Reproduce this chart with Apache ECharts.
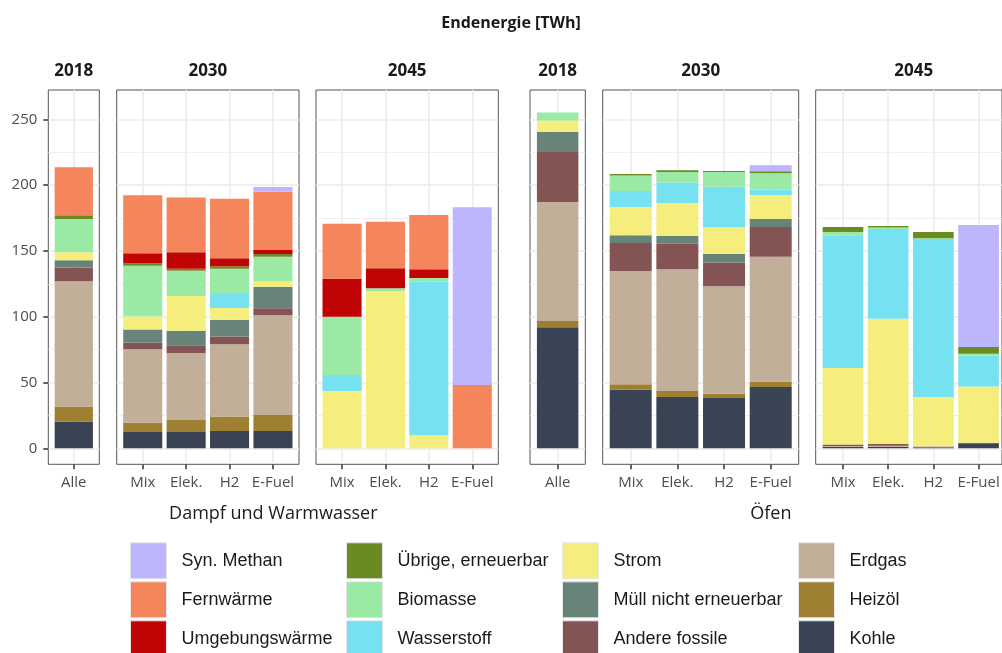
<!DOCTYPE html>
<html>
<head>
<meta charset="utf-8">
<script src="https://cdn.jsdelivr.net/npm/echarts@6/dist/echarts.min.js"></script>
<style>
  html, body { margin: 0; padding: 0; background: #ffffff; }
  #chart { width: 1002px; height: 653px; }
</style>
</head>
<body>
<div id="chart"></div>
<script>
// ---- Data ---------------------------------------------------------------
const chartTitle = 'Endenergie [TWh]';
const years = ['2018', '2030', '2045'];
const cats2018 = ['Alle'];
const catsScenario = ['Mix', 'Elek.', 'H2', 'E-Fuel'];
const groupNames = ['Dampf und Warmwasser', 'Öfen'];
const yTickValues = [0, 50, 100, 150, 200, 250];

// Energy carriers, stacked from bottom to top
const carriers = ['Kohle', 'Heizöl', 'Erdgas', 'Andere fossile', 'Müll nicht erneuerbar',
  'Strom', 'Wasserstoff', 'Biomasse', 'Übrige, erneuerbar', 'Umgebungswärme', 'Fernwärme', 'Syn. Methan'];
const carrierColors = ['#3a4353', '#9f8032', '#c1af99', '#845454', '#688378',
  '#f5ee7c', '#76e1f0', '#9ae9a5', '#6a8b23', '#c00405', '#f5855b', '#bdb5fe'];

// Values in TWh: [2018 Alle | 2030 Mix, Elek., H2, E-Fuel | 2045 Mix, Elek., H2, E-Fuel]
// Dampf und Warmwasser
const dampfKohle      = [20.3, 12.4, 12.4, 13.2, 13.2, 0, 0, 0, 0];
const dampfHeizoel    = [11.4, 7.1, 9.1, 10.9, 12.1, 0, 0, 0, 0];
const dampfErdgas     = [95.2, 55.7, 50.9, 54.9, 75.8, 0, 0, 0, 0];
const dampfAndere     = [10.4, 5.1, 5.9, 5.9, 5.3, 0, 0, 0, 0];
const dampfMuell      = [5.6, 9.9, 11.1, 12.6, 16.4, 0, 0, 0, 0];
const dampfStrom      = [6.0, 10.1, 26.4, 9.1, 4.1, 43.6, 119.6, 9.9, 0];
const dampfWasserst   = [0, 0.8, 0, 11.4, 0, 12.1, 0, 116.7, 0];
const dampfBiomasse   = [25.4, 37.7, 19.2, 18.5, 18.7, 44.3, 2.0, 2.8, 0];
const dampfUebrige    = [2.8, 1.8, 1.5, 1.8, 2.1, 0, 0, 0, 0];
const dampfUmgebung   = [0, 7.6, 12.4, 6.1, 3.3, 28.9, 15.2, 6.6, 0];
const dampfFernwaerme = [36.4, 44.0, 41.6, 45.3, 44.0, 41.8, 35.4, 41.3, 48.1];
const dampfSynMethan  = [0, 0, 0, 0, 3.6, 0, 0, 0, 135.0];

// Öfen
const ofenKohle      = [91.9, 44.6, 39.0, 38.2, 46.6, 1.0, 1.0, 0.8, 3.8];
const ofenHeizoel    = [4.9, 4.0, 4.6, 3.3, 4.1, 0, 0, 0, 0];
const ofenErdgas     = [90.4, 86.2, 92.4, 81.6, 94.9, 0.8, 1.0, 0.7, 0];
const ofenAndere     = [38.0, 21.2, 19.5, 18.0, 22.6, 1.0, 1.3, 0, 0.5];
const ofenMuell      = [15.4, 5.9, 5.8, 6.6, 6.1, 0, 0, 0, 0];
const ofenStrom      = [8.4, 21.5, 25.1, 20.2, 18.2, 58.2, 95.2, 37.5, 42.6];
const ofenWasserst   = [0, 12.1, 15.5, 30.9, 4.1, 100.9, 68.2, 120.1, 23.5];
const ofenBiomasse   = [6.1, 11.7, 8.1, 11.2, 12.4, 2.5, 1.0, 0.5, 1.5];
const ofenUebrige    = [0, 1.3, 1.2, 0.7, 1.5, 3.8, 1.3, 4.8, 5.1];
const ofenUmgebung   = [0, 0, 0, 0, 0, 0, 0, 0, 0];
const ofenFernwaerme = [0, 0, 0, 0, 0, 0, 0, 0, 0];
const ofenSynMethan  = [0, 0, 0, 0, 4.5, 0, 0, 0, 92.7];

const groupValues = [
  [dampfKohle, dampfHeizoel, dampfErdgas, dampfAndere, dampfMuell, dampfStrom,
   dampfWasserst, dampfBiomasse, dampfUebrige, dampfUmgebung, dampfFernwaerme, dampfSynMethan],
  [ofenKohle, ofenHeizoel, ofenErdgas, ofenAndere, ofenMuell, ofenStrom,
   ofenWasserst, ofenBiomasse, ofenUebrige, ofenUmgebung, ofenFernwaerme, ofenSynMethan]
];

// Legend columns (top to bottom in each column)
const legendColumns = [
  ['Syn. Methan', 'Fernwärme', 'Umgebungswärme'],
  ['Übrige, erneuerbar', 'Biomasse', 'Wasserstoff'],
  ['Strom', 'Müll nicht erneuerbar', 'Andere fossile'],
  ['Erdgas', 'Heizöl', 'Kohle']
];

// ---- Layout -------------------------------------------------------------
const panelLeft  = [[48.3, 116.7, 316.0], [530.0, 602.7, 815.7]];
const panelWidth = [[51.0, 182.3, 182.3], [55.3, 196.0, 196.0]];
const panelTop = 90, panelBottom = 464.3;
const zeroY = 448.3, topTickY = 119.3, topTickValue = 250;
const pxPerUnit = (zeroY - topTickY) / topTickValue;
const yMin = -(panelBottom - zeroY) / pxPerUnit;
const yMax = (zeroY - panelTop) / pxPerUnit;
const legendLeft = [130, 346, 562, 798];
const legendTop = 542.3;

const axisFont = '"Open Sans", "DejaVu Sans", sans-serif';
const gridColor = '#ebebeb';

const grids = [], xAxes = [], yAxes = [], series = [], graphics = [];

groupValues.forEach((vals, g) => {
  years.forEach((year, p) => {
    const cats = p === 0 ? cats2018 : catsScenario;
    const start = p === 0 ? 0 : (p === 1 ? 1 : 5);
    const n = cats.length;
    const L = panelLeft[g][p], W = panelWidth[g][p];
    const unit = W / (n + 0.2);
    const firstPanel = g === 0 && p === 0;
    const base = grids.length;

    // Frame grid (panel border)
    grids.push({ left: L, top: panelTop, width: W, height: panelBottom - panelTop,
      show: true, borderColor: '#555555', borderWidth: 1, backgroundColor: 'transparent' });
    xAxes.push({ gridIndex: base, type: 'value', show: false });
    yAxes.push({ gridIndex: base, type: 'value', show: false });

    // Horizontal grid lines and y axis
    grids.push({ left: L, top: topTickY, width: W, height: zeroY - topTickY });
    xAxes.push({ gridIndex: base + 1, type: 'value', show: false });
    yAxes.push({
      gridIndex: base + 1, type: 'value', min: 0, max: topTickValue, interval: 50,
      axisLine: { show: false, onZero: false },
      axisTick: { show: firstPanel, length: 5, lineStyle: { color: '#333333', width: 1.5 } },
      axisLabel: { show: firstPanel, margin: 11, color: '#4d4d4d', fontSize: 15, fontFamily: axisFont,
        customValues: yTickValues },
      splitLine: { show: true, lineStyle: { color: gridColor, width: 1.6 } },
      minorTick: { show: false, splitNumber: 2 },
      minorSplitLine: { show: true, lineStyle: { color: gridColor, width: 0.8 } }
    });

    // Bars, category axis and vertical grid lines
    grids.push({ left: L + 0.1 * unit, top: panelTop, width: n * unit, height: panelBottom - panelTop });
    xAxes.push({
      gridIndex: base + 2, type: 'category', data: cats, boundaryGap: true,
      axisLine: { show: false, onZero: false },
      axisTick: { show: true, alignWithLabel: true, length: 5, lineStyle: { color: '#333333', width: 1.5 } },
      axisLabel: { interval: 0, margin: 11, color: '#4d4d4d', fontSize: 15, fontFamily: axisFont },
      splitLine: { show: true, alignWithLabel: true, lineStyle: { color: gridColor, width: 1.6 } }
    });
    yAxes.push({ gridIndex: base + 2, type: 'value', min: yMin, max: yMax, show: false,
      axisLine: { onZero: false } });

    carriers.forEach((name, c) => {
      series.push({
        type: 'bar', name: name,
        xAxisIndex: base + 2, yAxisIndex: base + 2,
        stack: 'g' + g + 'p' + p,
        barWidth: '90%',
        itemStyle: { color: carrierColors[c] },
        emphasis: { disabled: true },
        data: vals[c].slice(start, start + n)
      });
    });

    // Facet strip label
    graphics.push({
      type: 'text', x: L + W / 2, y: 71,
      style: { text: year, fill: '#1a1a1a', font: 'bold 17px ' + axisFont,
        align: 'center', verticalAlign: 'middle' }
    });
  });

  // Group caption under each block of panels
  const gl = panelLeft[g][0];
  const gr = panelLeft[g][2] + panelWidth[g][2];
  graphics.push({
    type: 'text', x: (gl + gr) / 2, y: 514,
    style: { text: groupNames[g], fill: '#1a1a1a', font: '18px ' + axisFont,
      align: 'center', verticalAlign: 'middle' }
  });
});

graphics.push({
  type: 'text', x: 511, y: 23,
  style: { text: chartTitle, fill: '#1a1a1a', font: 'bold 16px ' + axisFont,
    align: 'center', verticalAlign: 'middle' }
});

const legends = legendColumns.map((names, i) => ({
  orient: 'vertical', left: legendLeft[i], top: legendTop, height: 130, padding: 0,
  itemWidth: 36, itemHeight: 36, itemGap: 2, icon: 'rect',
  selectedMode: false,
  itemStyle: { borderColor: '#e6e6e6', borderWidth: 1 },
  textStyle: { fontFamily: '"Liberation Sans", Arial, sans-serif', fontSize: 18, color: '#1a1a1a',
    padding: [0, 0, 0, 10] },
  data: names
}));

const chart = echarts.init(document.getElementById('chart'), null, { renderer: 'canvas' });
chart.setOption({
  animation: false,
  backgroundColor: '#ffffff',
  grid: grids,
  xAxis: xAxes,
  yAxis: yAxes,
  legend: legends,
  series: series,
  graphic: graphics
});
</script>
</body>
</html>
